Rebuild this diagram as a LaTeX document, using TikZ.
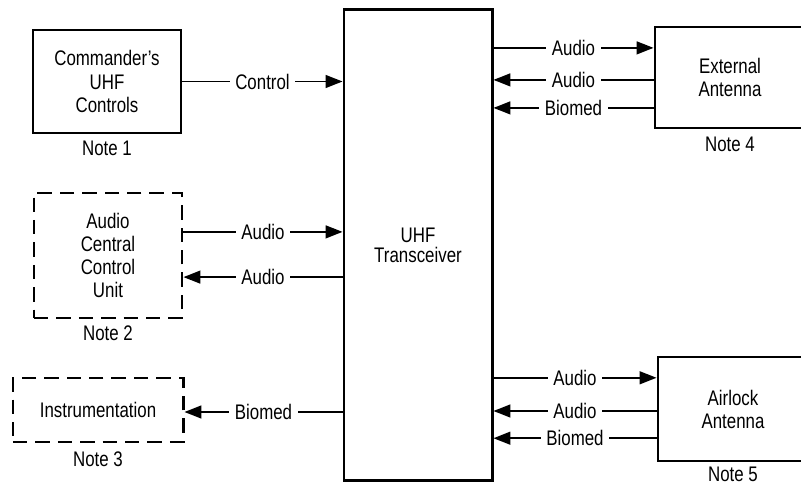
\documentclass[tikz,border=0pt]{standalone}
\usepackage{fontspec}
\setmainfont{Liberation Sans}[FakeStretch=0.8]
\usepackage{tikz}
\usetikzlibrary{arrows.meta,positioning}
\tikzset{
  unitbox/.style={
    rectangle, draw=black, line width=2.1pt,
    minimum width=3.7cm, minimum height=2.6cm,
    align=center, inner sep=2pt
  },
  optbox/.style={
    unitbox, dash pattern=on 0.36cm off 0.2cm
  },
  notelabel/.style={
    inner sep=1pt
  },
  sigline/.style={
    line width=1.2pt
  },
  sigarrow/.style={
    sigline, -{Triangle[length=0.42cm, width=0.32cm]}
  },
  siglabel/.style={
    fill=white, inner xsep=4pt, inner ysep=1pt
  },
}

\begin{document}
\begin{tikzpicture}[x=0.025cm, y=-0.025cm, font=\fontsize{15}{16.4}\selectfont]
  \useasboundingbox (0,0) rectangle (801,484);
  \clip (0,0) rectangle (801,484);

  % Transceiver
  \node[unitbox, minimum width=3.7cm, minimum height=11.75cm] (uhf) at (418,245) {UHF\\[-2pt]Transceiver};

  % Left side units
  \node[unitbox, minimum height=2.575cm] (cmd) at (107,81.5) {Commander's\\UHF\\Controls};
  \node[notelabel, below=0.12cm of cmd] (n1) {Note 1};

  \node[optbox, minimum height=3.125cm] (acc) at (108,255.5) {Audio\\Central\\Control\\Unit};
  \node[notelabel, below=0.12cm of acc] (n2) {Note 2};

  \node[optbox, minimum width=4.25cm, minimum height=1.6cm] (ins) at (98,410) {Instrumentation};
  \node[notelabel, below=0.17cm of ins] (n3) {Note 3};

  % Right side antennas
  \node[unitbox, minimum width=3.75cm, minimum height=2.525cm] (ext) at (730,77.5) {External\\Antenna};
  \node[notelabel, below=0.14cm of ext] (n4) {Note 4};

  \node[unitbox, minimum width=3.75cm, minimum height=2.6cm] (air) at (733,409) {Airlock\\Antenna};
  \node[notelabel, below=0.07cm of air] (n5) {Note 5};

  % Left connections
  \draw[sigarrow] (cmd.east) -- node[siglabel] {Control} (cmd.east -| uhf.west);
  \draw[sigarrow] ([yshift=0.59cm]acc.east) -- node[siglabel] {Audio} ([yshift=0.59cm]acc.east -| uhf.west);
  \draw[sigarrow] ([yshift=-0.54cm]acc.east -| uhf.west) -- node[siglabel] {Audio} ([yshift=-0.54cm]acc.east);
  \draw[sigarrow] ([yshift=-0.05cm]ins.east -| uhf.west) -- node[siglabel] {Biomed} ([yshift=-0.05cm]ins.east);

  % Right connections
  \draw[sigarrow] ([yshift=0.74cm]ext.west -| uhf.east) -- node[siglabel] {Audio} ([yshift=0.74cm]ext.west);
  \draw[sigarrow] ([yshift=-0.06cm]ext.west) -- node[siglabel] {Audio} ([yshift=-0.06cm]ext.west -| uhf.east);
  \draw[sigarrow] ([yshift=-0.76cm]ext.west) -- node[siglabel] {Biomed} ([yshift=-0.76cm]ext.west -| uhf.east);

  \draw[sigarrow] ([yshift=0.78cm]air.west -| uhf.east) -- node[siglabel] {Audio} ([yshift=0.78cm]air.west);
  \draw[sigarrow] ([yshift=-0.05cm]air.west) -- node[siglabel] {Audio} ([yshift=-0.05cm]air.west -| uhf.east);
  \draw[sigarrow] ([yshift=-0.73cm]air.west) -- node[siglabel] {Biomed} ([yshift=-0.73cm]air.west -| uhf.east);
\end{tikzpicture}
\end{document}
